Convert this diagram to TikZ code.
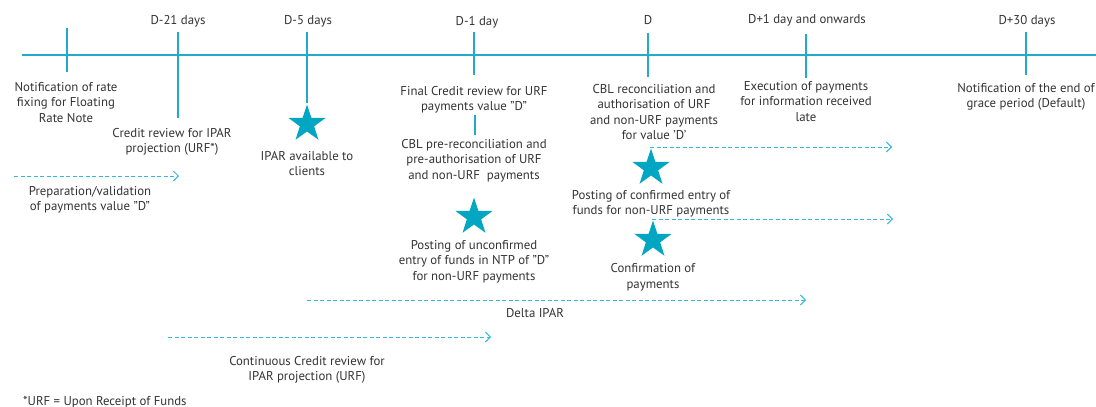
\documentclass[tikz,border=0pt]{standalone}
\usepackage{fontspec}
\setmainfont{PT Sans}
\usetikzlibrary{shapes.geometric,arrows.meta}
\definecolor{linec}{HTML}{22AAC6}
\definecolor{starc}{HTML}{00A6C2}
\definecolor{dashc}{HTML}{35B9D8}
\definecolor{txtc}{HTML}{333333}
\begin{document}
\begin{tikzpicture}[x=1pt,y=-1pt,
  txt/.style={anchor=base,align=center,inner sep=0pt,text=txtc,font=\fontsize{12.8}{15.5}\selectfont},
  tick/.style={draw=linec,line width=1.1pt},
  bigstar/.style={star,star points=5,star point ratio=2.6,fill=starc,draw=none,minimum size=39pt,inner sep=0pt},
  dasharrow/.style={draw=dashc,line width=0.9pt,dash pattern=on 4pt off 2.5pt,-{Straight Barb[length=5pt,width=10pt,line width=0.9pt]}}]
\useasboundingbox (0,0) rectangle (1096,407);
% timeline
\coordinate (tl0) at (22,55);
\coordinate (tl1) at (1096,55);
\draw[tick] (tl0) -- (tl1);
% ticks
\coordinate (a1) at (67,28);  \coordinate (a2) at (67,72);
\coordinate (b1) at (178,32); \coordinate (b2) at (178,118);
\coordinate (c1) at (307,32); \coordinate (c2) at (307,103);
\coordinate (d1) at (474,32); \coordinate (d2) at (474,75);
\coordinate (d3) at (475,115); \coordinate (d4) at (475,135);
\coordinate (e1) at (648,33); \coordinate (e2) at (648,77);
\coordinate (f1) at (806,34); \coordinate (f2) at (806,78);
\coordinate (g1) at (1026,32); \coordinate (g2) at (1026,75);
\draw[tick] (a1) -- (a2);
\draw[tick] (b1) -- (b2);
\draw[tick] (c1) -- (c2);
\draw[tick] (d1) -- (d2);
\draw[tick] (d3) -- (d4);
\draw[tick] (e1) -- (e2);
\draw[tick] (f1) -- (f2);
\draw[tick] (g1) -- (g2);
% top labels
\node[txt] (l21) at (178,24) {D-21 days};
\node[txt] (l5) at (308,24) {D-5 days};
\node[txt] (l1) at (477,25) {D-1 day};
\node[txt] (l0) at (648,24) {D};
\node[txt] (lp1) at (807,23) {D+1 day and onwards};
\node[txt] (lp30) at (1027,24) {D+30 days};
% stars
\node[bigstar] (s1) at (307,124) {};
\node[bigstar] (s2) at (474,217) {};
\node[bigstar] (s3) at (651,168) {};
\node[bigstar] (s4) at (653,240) {};
% texts (positioned at the baseline of their last line)
\node[txt] (t1) at (66,122) {Notification of rate\\fixing for Floating\\Rate Note};
\node[txt] (t2) at (172,152.5) {Credit review for IPAR\\projection (URF*)};
\node[txt] (t3) at (307,175.5) {IPAR available to\\clients};
\node[txt] (t4) at (90,210.5) {Preparation/validation\\of payments value "D"};
\node[txt] (t5) at (474,110.5) {Final Credit review for URF\\payments value "D"};
\node[txt] (t6) at (474,179) {CBL pre-reconciliation and\\pre-authorisation of URF\\and non-URF\ \ payments};
\node[txt] (t7) at (474,280) {Posting of unconfirmed\\entry of funds in NTP of "D"\\for non-URF payments};
\node[txt] (t8) at (654,139.5) {CBL reconciliation and\\authorisation of URF\\and non-URF payments\\for value 'D'};
\node[txt] (t9) at (651,214.5) {Posting of confirmed entry of\\funds for non-URF payments};
\node[txt] (t10) at (653,288) {Confirmation of\\payments};
\node[txt] (t11) at (806,121) {Execution of payments\\for information received\\late};
\node[txt] (t12) at (1026,107.5) {Notification of the end of\\grace period (Default)};
\node[txt] (t13) at (535,317) {Delta IPAR};
\node[txt] (t14) at (307,380.5) {Continuous Credit review for\\IPAR projection (URF)};
\node[txt,anchor=base west] (fn) at (23,405) {*URF = Upon Receipt of Funds};
% dashed arrows
\coordinate (p1) at (14,176);  \coordinate (p2) at (179,176);
\coordinate (q1) at (650,147); \coordinate (q2) at (892,147);
\coordinate (r1) at (652,219); \coordinate (r2) at (893,219);
\coordinate (u1) at (307,300); \coordinate (u2) at (806,300);
\coordinate (v1) at (168,337); \coordinate (v2) at (491,337);
\draw[dasharrow] (p1) -- (p2);
\draw[dasharrow] (q1) -- (q2);
\draw[dasharrow] (r1) -- (r2);
\draw[dasharrow] (u1) -- (u2);
\draw[dasharrow] (v1) -- (v2);
\end{tikzpicture}
\end{document}
